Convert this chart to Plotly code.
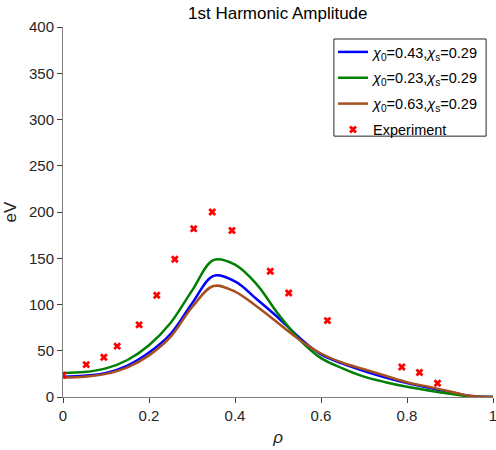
import plotly.graph_objects as go

# RADIAL GRID (rho) FOR THE MODEL CURVES
rho = [0, 0.05, 0.1, 0.15, 0.2, 0.25, 0.3, 0.35, 0.4, 0.45, 0.5,
       0.55, 0.6, 0.65, 0.7, 0.75, 0.8, 0.85, 0.9, 0.95, 1.0]

# model amplitudes (eV)
amp_043 = [22, 23, 26, 34, 48, 68, 101, 131, 125, 106, 86, 64, 46, 36, 28, 21, 15, 10, 5.5, 1, 0]
amp_023 = [26, 27, 31, 40, 56, 80, 115, 148, 143, 122, 90, 62, 42, 31, 22, 16, 11, 7, 3.5, 0.5, 0]
amp_063 = [21, 22, 25, 32, 45, 65, 97, 120, 114, 98, 80, 62, 47, 37, 30, 23, 16, 11, 6, 1, 0]

# EXPERIMENT POINTS
exp_rho = [0, 0.054, 0.095, 0.126, 0.177, 0.218, 0.26, 0.304, 0.347, 0.393,
           0.482, 0.525, 0.615, 0.788, 0.829, 0.871]
exp_amp = [23.5, 35, 43, 55, 78, 110, 149, 182, 200, 180,
           136, 112.5, 82.6, 32.5, 26.4, 14.8]

fig = go.Figure()

fig.add_trace(go.Scatter(x=rho, y=amp_043, mode='lines', line=dict(color='#0000ff', width=2.5, shape='spline'),
                         legendgroup='a', name='<i>χ</i><sub>0</sub>=0.43,<i>χ</i><sub>s</sub>=0.29'))
fig.add_trace(go.Scatter(x=rho, y=amp_023, mode='lines', line=dict(color='#008000', width=2.5, shape='spline'),
                         legendgroup='b', name='<i>χ</i><sub>0</sub>=0.23,<i>χ</i><sub>s</sub>=0.29'))
fig.add_trace(go.Scatter(x=rho, y=amp_063, mode='lines', line=dict(color='#a5501e', width=2.5, shape='spline'),
                         legendgroup='c', name='<i>χ</i><sub>0</sub>=0.63,<i>χ</i><sub>s</sub>=0.29'))
fig.add_trace(go.Scatter(x=exp_rho, y=exp_amp, mode='markers',
                         marker=dict(symbol='x', size=7, color='#ff0000', line=dict(width=0)),
                         legendgroup='d', name='Experiment'))

fig.update_layout(
    width=496, height=450,
    margin=dict(l=63, r=3, t=27, b=53),
    paper_bgcolor='white', plot_bgcolor='white',
    font=dict(family='Liberation Sans, Arial, sans-serif', size=15, color='#262626'),
    legend=dict(x=0.628, y=0.9757, xanchor='left', yanchor='top',
                bgcolor='rgba(0,0,0,0)', borderwidth=0,
                font=dict(size=14.5, color='#000000'), tracegroupgap=4, itemwidth=30),
    showlegend=True,
)

# legend box drawn as a shape (tighter than plotly's own padding)
fig.add_shape(type='rect', xref='paper', yref='paper', x0=0.630, x1=0.984, y0=0.705, y1=0.9676,
              line=dict(color='#262626', width=1), fillcolor='white', layer='above')

# title as an annotation so it can sit close to the top edge
fig.add_annotation(text='1st Harmonic Amplitude', xref='paper', yref='paper', x=0.5, y=1.036,
                   xanchor='center', yanchor='middle', showarrow=False,
                   font=dict(size=17, color='#000000'))

# CUSTOMIZE AXES
fig.update_xaxes(range=[0, 1], tickvals=[0, 0.2, 0.4, 0.6, 0.8, 1], ticktext=['0', '0.2', '0.4', '0.6', '0.8', '1'],
                 showgrid=False, zeroline=False, showline=True, linecolor='#808080', linewidth=1,
                 ticks='outside', ticklen=5, tickcolor='#404040', automargin=False, ticklabeloverflow='allow',
                 title=dict(text='<i>ρ</i>', font=dict(size=17, color='#262626'), standoff=8))
fig.update_yaxes(range=[0, 400], dtick=50, showgrid=False, zeroline=False, showline=True,
                 linecolor='#808080', linewidth=1, ticks='outside', ticklen=5, tickcolor='#404040',
                 automargin=False,
                 title=dict(text='eV', font=dict(size=17, color='#262626'), standoff=8))

# drop the default page margin so the figure fills the window exactly, no modebar
fig.write_html("out.html", config={'displayModeBar': False},
               post_script="document.body.style.margin='0';document.body.style.overflow='hidden';")
